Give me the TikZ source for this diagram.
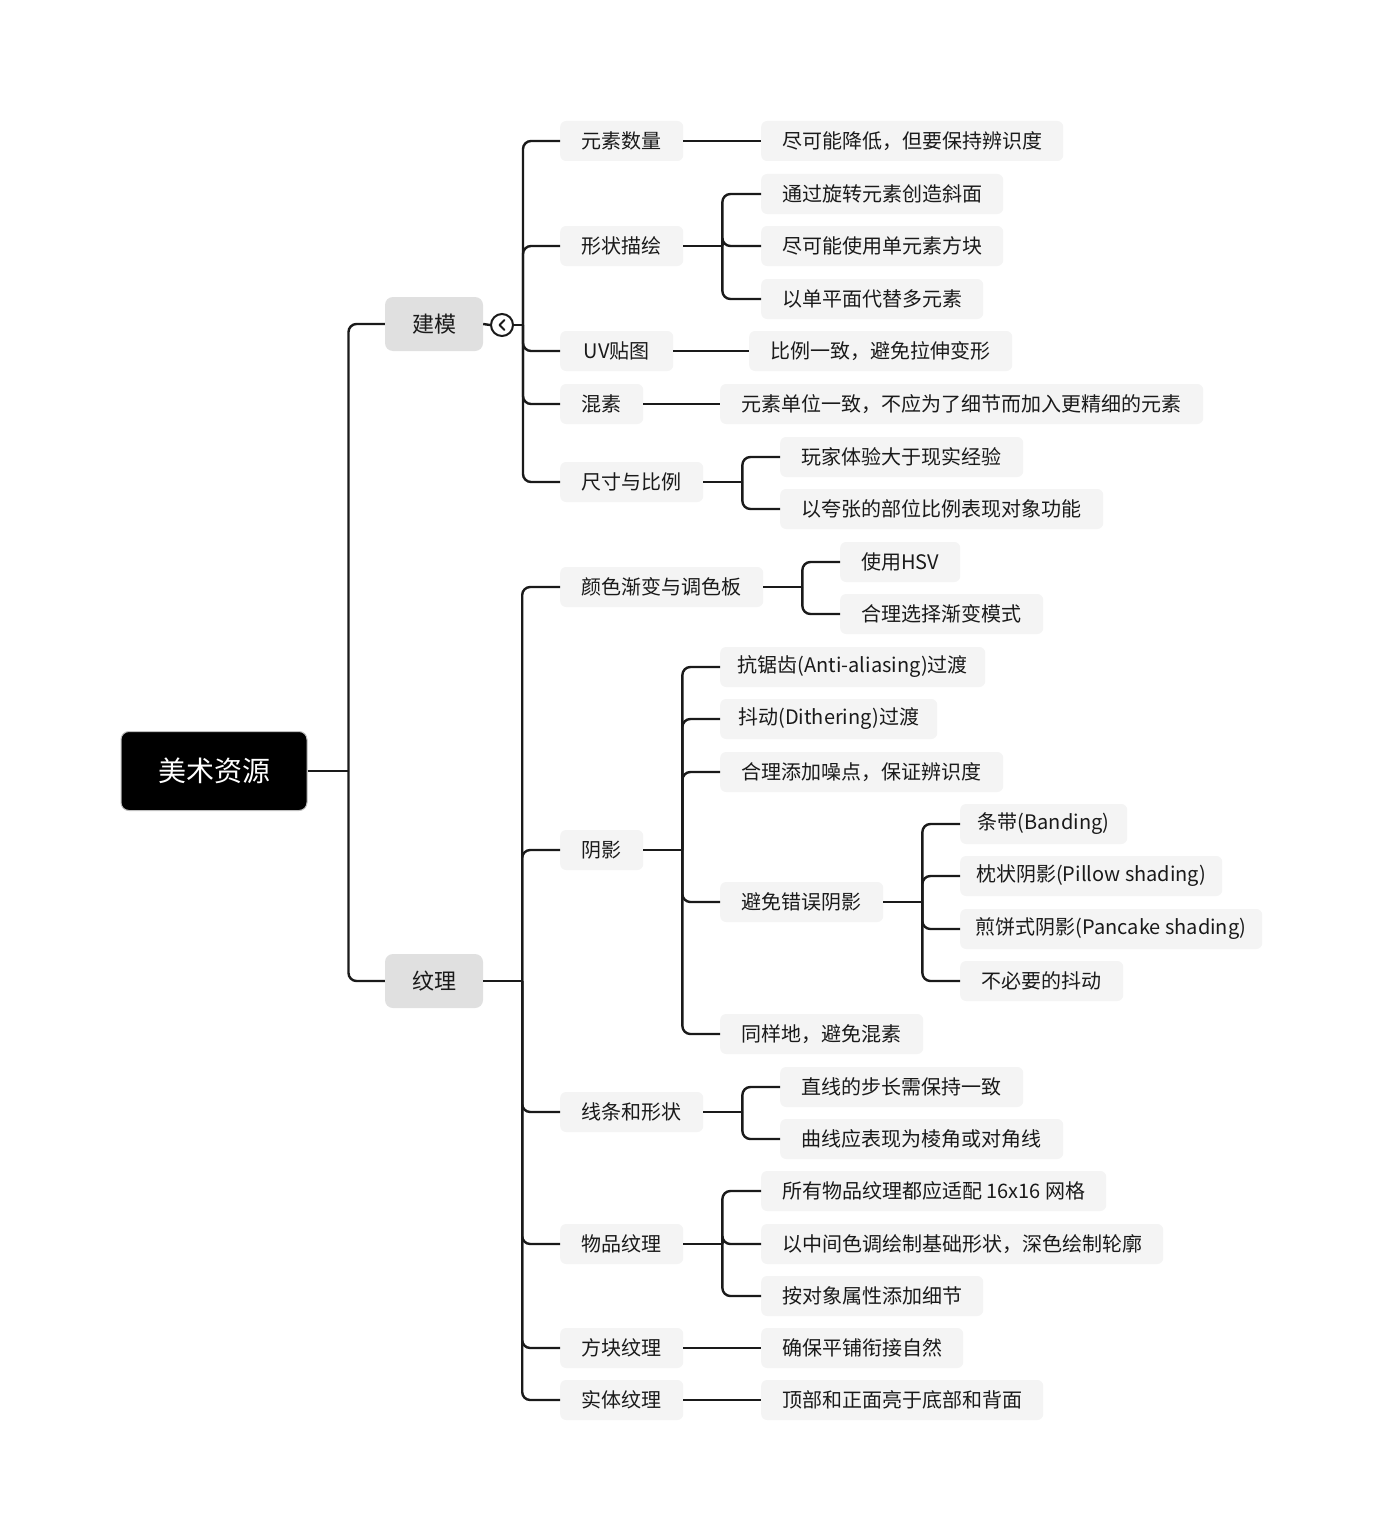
\documentclass[tikz,border=0pt]{standalone}
\usepackage{fontspec}
\setmainfont{Noto Sans CJK SC}
\definecolor{leafgray}{HTML}{F4F4F4}
\definecolor{topicgray}{HTML}{E0E0E0}
\definecolor{ink}{HTML}{1A1A1A}
\newcommand\mmkid[2]{\draw[conn,rounded corners=8pt] (#1) |- (#2.west);}
\begin{document}
\begin{tikzpicture}[x=1pt,y=-1pt,
 conn/.style={line width=2.4pt, draw=ink},
 leaf/.style={fill=leafgray, rounded corners=6pt, minimum height=40pt, inner sep=0pt, anchor=west, font=\fontsize{20}{24}\selectfont, text=ink},
 topic/.style={fill=topicgray, rounded corners=8pt, minimum height=54pt, minimum width=98pt, inner sep=0pt, font=\fontsize{22}{26}\selectfont, text=ink},
 rootbox/.style={fill=black, draw=black!25, line width=1pt, rounded corners=8pt, minimum width=186pt, minimum height=79pt, inner sep=0pt, text=white, font=\fontsize{28}{32}\selectfont}]
\fill[white] (0,0) rectangle (1397,1517);
\useasboundingbox (0,0) rectangle (1397,1517);

% root and topics
\node[rootbox] (root) at (214,771) {美术资源};
\node[topic] (jm) at (434,324) {建模};
\node[topic] (wl) at (434,981) {纹理};
\draw[conn] (root.east) -- ++(41,0) coordinate (rj);
\mmkid{rj}{jm}
\mmkid{rj}{wl}

% collapse icon
\node[circle, draw=ink, line width=2pt, fill=white, minimum size=22pt, inner sep=0pt] (jmc) at (502,325) {};
\draw[line width=1.8pt, draw=ink, line cap=round, line join=round] (jmc.center) ++(2.5,-5) -- ++(-5,5) -- ++(5,5);
\draw[conn] (jm.east) -- (jmc.west);
\draw[conn] (jmc.east) -- ++(9,0) coordinate (jmj);

% 建模 children
\node[leaf, minimum width=123] (a1) at (560,141) {元素数量};
\node[leaf, minimum width=123] (a2) at (560,246) {形状描绘};
\node[leaf, minimum width=113] (a3) at (560,351) {UV贴图};
\node[leaf, minimum width=83]  (a4) at (560,404) {混素};
\node[leaf, minimum width=143] (a5) at (560,482) {尺寸与比例};
\foreach \n in {a1,a2,a3,a4,a5} {\mmkid{jmj}{\n}}

\node[leaf, minimum width=302] (a1a) at (761,141) {尽可能降低，但要保持辨识度};
\draw[conn] (a1.east) -- (a1a.west);

\node[leaf, minimum width=242] (a2a) at (761,194) {通过旋转元素创造斜面};
\node[leaf, minimum width=242] (a2b) at (761,246) {尽可能使用单元素方块};
\node[leaf, minimum width=222] (a2c) at (761,299) {以单平面代替多元素};
\draw[conn] (a2.east) -- ++(39,0) coordinate (a2j);
\foreach \n in {a2a,a2b,a2c} {\mmkid{a2j}{\n}}

\node[leaf, minimum width=263] (a3a) at (749,351) {比例一致，避免拉伸变形};
\draw[conn] (a3.east) -- (a3a.west);

\node[leaf, minimum width=483] (a4a) at (720,404) {元素单位一致，不应为了细节而加入更精细的元素};
\draw[conn] (a4.east) -- (a4a.west);

\node[leaf, minimum width=243] (a5a) at (780,457) {玩家体验大于现实经验};
\node[leaf, minimum width=323] (a5b) at (780,509) {以夸张的部位比例表现对象功能};
\draw[conn] (a5.east) -- ++(39,0) coordinate (a5j);
\foreach \n in {a5a,a5b} {\mmkid{a5j}{\n}}

% 纹理 children
\draw[conn] (wl.east) -- ++(39,0) coordinate (wlj);
\node[leaf, minimum width=203] (b1) at (560,587) {颜色渐变与调色板};
\node[leaf, minimum width=83]  (b2) at (560,850) {阴影};
\node[leaf, minimum width=143] (b3) at (560,1112) {线条和形状};
\node[leaf, minimum width=123] (b4) at (560,1244) {物品纹理};
\node[leaf, minimum width=123] (b5) at (560,1348) {方块纹理};
\node[leaf, minimum width=123] (b6) at (560,1400) {实体纹理};
\foreach \n in {b1,b2,b3,b4,b5,b6} {\mmkid{wlj}{\n}}

\node[leaf, minimum width=120] (b1a) at (840,562) {使用HSV};
\node[leaf, minimum width=203] (b1b) at (840,614) {合理选择渐变模式};
\draw[conn] (b1.east) -- ++(39,0) coordinate (b1j);
\foreach \n in {b1a,b1b} {\mmkid{b1j}{\n}}

\node[leaf, minimum width=265] (b2a) at (720,667) {抗锯齿(Anti-aliasing)过渡};
\node[leaf, minimum width=217] (b2b) at (720,719) {抖动(Dithering)过渡};
\node[leaf, minimum width=283] (b2c) at (720,772) {合理添加噪点，保证辨识度};
\node[leaf, minimum width=163] (b2d) at (720,902) {避免错误阴影};
\node[leaf, minimum width=203] (b2e) at (720,1034) {同样地，避免混素};
\draw[conn] (b2.east) -- ++(39,0) coordinate (b2j);
\foreach \n in {b2a,b2b,b2c,b2d,b2e} {\mmkid{b2j}{\n}}

\node[leaf, minimum width=167] (c1) at (960,824) {条带(Banding)};
\node[leaf, minimum width=262] (c2) at (960,876) {枕状阴影(Pillow shading)};
\node[leaf, minimum width=302] (c3) at (960,929) {煎饼式阴影(Pancake shading)};
\node[leaf, minimum width=163] (c4) at (960,981) {不必要的抖动};
\draw[conn] (b2d.east) -- ++(39,0) coordinate (b2dj);
\foreach \n in {c1,c2,c3,c4} {\mmkid{b2dj}{\n}}

\node[leaf, minimum width=243] (b3a) at (780,1087) {直线的步长需保持一致};
\node[leaf, minimum width=283] (b3b) at (780,1139) {曲线应表现为棱角或对角线};
\draw[conn] (b3.east) -- ++(39,0) coordinate (b3j);
\foreach \n in {b3a,b3b} {\mmkid{b3j}{\n}}

\node[leaf, minimum width=345] (b4a) at (761,1191) {所有物品纹理都应适配 16x16 网格};
\node[leaf, minimum width=402] (b4b) at (761,1244) {以中间色调绘制基础形状，深色绘制轮廓};
\node[leaf, minimum width=222] (b4c) at (761,1296) {按对象属性添加细节};
\draw[conn] (b4.east) -- ++(39,0) coordinate (b4j);
\foreach \n in {b4a,b4b,b4c} {\mmkid{b4j}{\n}}

\node[leaf, minimum width=202] (b5a) at (761,1348) {确保平铺衔接自然};
\draw[conn] (b5.east) -- (b5a.west);

\node[leaf, minimum width=282] (b6a) at (761,1400) {顶部和正面亮于底部和背面};
\draw[conn] (b6.east) -- (b6a.west);
\end{tikzpicture}
\end{document}
